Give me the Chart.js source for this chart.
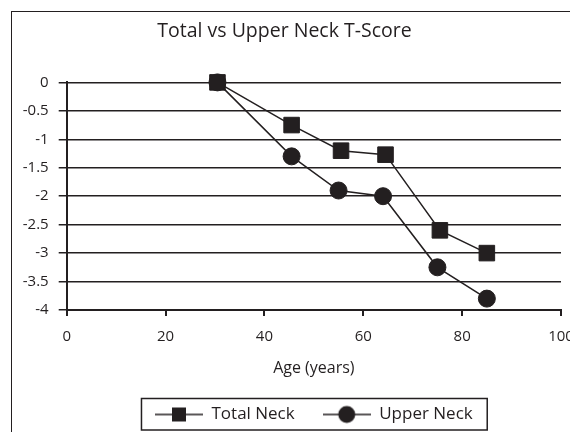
<!DOCTYPE html>
<html>
<head>
<meta charset="utf-8">
<script src="https://cdn.jsdelivr.net/npm/chart.js@4.4.1/dist/chart.umd.min.js"></script>
<style>
html, body { margin: 0; padding: 0; width: 570px; height: 432px; overflow: hidden; background: #fff; }
#frame { position: absolute; left: 11px; top: 11px; width: 620px; height: 460px; border: 1.5px solid #231f20; }
#wrap { position: absolute; left: 0; top: 0; width: 600px; height: 440px; }
</style>
</head>
<body>
<div id="frame"></div>
<div id="wrap"><canvas id="chart" width="600" height="440"></canvas></div>
<script>
// values
var totalAges   = [30.5, 45.5, 55.5, 64.5, 75.5, 85];
var totalScores = [0, -0.75, -1.2, -1.27, -2.6, -3.0];
var upperAges   = [30.5, 45.5, 55, 64, 75, 85];
var upperScores = [0, -1.3, -1.9, -2.0, -3.25, -3.8];
var xTicks = [0, 20, 40, 60, 80, 100];
var yTicks = [0, -0.5, -1, -1.5, -2, -2.5, -3, -3.5, -4];

var ink = '#231f20';
var font = 'Open Sans';

function toPoints(xs, ys) {
    return xs.map(function (x, i) { return { x: x, y: ys[i] }; });
}

// legend glyph: short line with the marker in the middle
function legendIcon(style) {
    var c = document.createElement('canvas');
    c.width = 48; c.height = 20;
    var g = c.getContext('2d');
    g.strokeStyle = ink; g.lineWidth = 1.3;
    g.beginPath(); g.moveTo(0, 10); g.lineTo(48, 10); g.stroke();
    g.fillStyle = ink;
    if (style === 'rect') {
        g.fillRect(17, 3, 14, 14);
    } else {
        g.beginPath(); g.arc(24, 10, 8.5, 0, Math.PI * 2); g.fill();
    }
    return c;
}
var icons = [legendIcon('rect'), legendIcon('circle')];

// box round the legend
var legendFrame = {
    id: 'legendFrame',
    afterDraw: function (chart) {
        var boxes = chart.legend.legendHitBoxes;
        if (!boxes || !boxes.length) return;
        var left = Math.min.apply(null, boxes.map(function (b) { return b.left; })) - 13.5;
        var right = Math.max.apply(null, boxes.map(function (b) { return b.left + b.width; })) + 14.5;
        var mid = boxes[0].top + boxes[0].height / 2;
        var ctx = chart.ctx;
        ctx.save();
        ctx.strokeStyle = ink;
        ctx.lineWidth = 1.5;
        ctx.strokeRect(left, mid - 16, right - left, 31.5);
        ctx.restore();
    }
};

new Chart(document.getElementById('chart').getContext('2d'), {
    type: 'line',
    data: {
        datasets: [{
            label: 'Total Neck',
            data: toPoints(totalAges, totalScores),
            borderColor: ink,
            borderWidth: 1.5,
            pointStyle: 'rect',
            pointRadius: 11,
            pointBorderWidth: 1,
            pointBackgroundColor: ink,
            pointBorderColor: ink,
            clip: false,
            order: 1
        }, {
            label: 'Upper Neck',
            data: toPoints(upperAges, upperScores),
            borderColor: ink,
            borderWidth: 1.5,
            pointStyle: 'circle',
            pointRadius: 8.5,
            pointBorderWidth: 1,
            pointBackgroundColor: ink,
            pointBorderColor: ink,
            clip: false,
            order: 0
        }]
    },
    options: {
        responsive: false,
        animation: false,
        devicePixelRatio: 1,
        layout: { padding: { left: 8, right: 39, top: 0, bottom: 7 } },
        plugins: {
            tooltip: { enabled: false },
            title: {
                display: true,
                text: 'Total vs Upper Neck T-Score',
                color: ink,
                font: { family: font, size: 19.5, weight: 'normal' },
                padding: { top: 20, bottom: 39 }
            },
            legend: {
                position: 'bottom',
                fullSize: false,
                labels: {
                    color: ink,
                    font: { family: font, size: 17 },
                    usePointStyle: true,
                    pointStyleWidth: 48,
                    padding: 28,
                    sort: function (a, b) { return a.datasetIndex - b.datasetIndex; },
                    generateLabels: function (chart) {
                        var items = Chart.defaults.plugins.legend.labels.generateLabels(chart);
                        items.forEach(function (it) { it.pointStyle = icons[it.datasetIndex]; });
                        return items;
                    }
                }
            }
        },
        scales: {
            x: {
                type: 'linear',
                min: 0,
                max: 100,
                afterBuildTicks: function (s) { s.ticks = xTicks.map(function (v) { return { value: v }; }); },
                afterFit: function (s) { s.height = 68; },
                grid: { drawOnChartArea: false, drawTicks: true, tickLength: 6, color: ink, lineWidth: 2 },
                border: { color: ink, width: 2 },
                ticks: { color: ink, padding: 12, font: { family: font, size: 15 }, callback: function (v) { return String(v); } },
                title: { display: true, text: 'Age (years)', color: ink, padding: 0, font: { family: font, size: 16 } }
            },
            y: {
                min: -4,
                max: 0,
                afterBuildTicks: function (s) { s.ticks = yTicks.map(function (v) { return { value: v }; }); },
                afterFit: function (s) { s.width = 58.7; },
                grid: { color: ink, lineWidth: 1.5, tickLength: 8 },
                border: { color: ink, width: 2 },
                ticks: { color: ink, padding: 10, font: { family: font, size: 15 }, callback: function (v) { return String(v); } }
            }
        }
    },
    plugins: [legendFrame]
});
</script>
</body>
</html>
